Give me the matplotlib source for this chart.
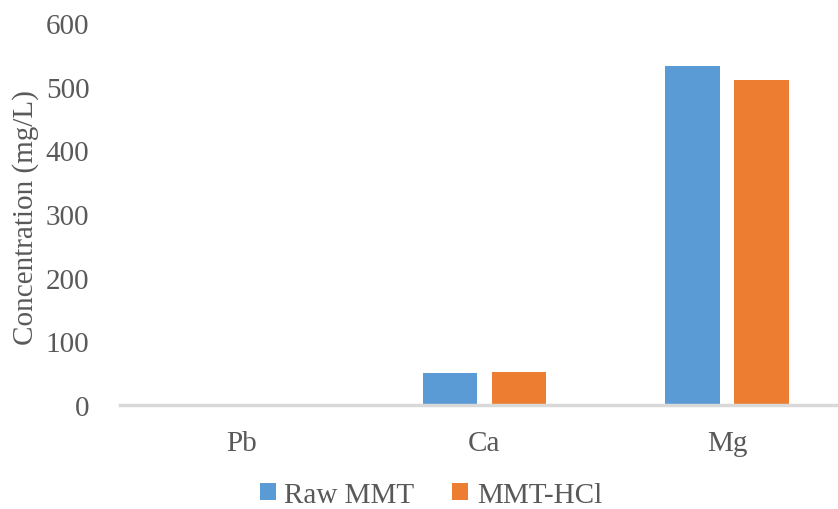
import matplotlib.pyplot as plt
import numpy as np

elements = ['Pb', 'Ca', 'Mg']
raw_mmt = [0.5, 50, 532]
mmt_hcl = [0.4, 52, 510]
y_ticks = [0, 100, 200, 300, 400, 500, 600]

plt.rcParams['font.family'] = ['Liberation Serif', 'DejaVu Serif']
grey = '#595959'

fig = plt.figure(figsize=(8.38, 5.10), dpi=100)
ax = fig.add_axes([120 / 838, 104 / 510, 718 / 838, 382 / 510])

x = np.arange(len(elements))
w = 0.226
ax.bar(x - 0.142, raw_mmt, w, color='#5b9bd5', label='Raw MMT')
ax.bar(x + 0.142, mmt_hcl, w, color='#ed7d31', label='MMT-HCl')

ax.set_xlim(-0.5, 2.455)
ax.set_ylim(0, 600)
ax.set_yticks(y_ticks)
ax.set_xticks(x)
ax.set_xticklabels(elements)
ax.tick_params(length=0, labelsize=21, colors=grey)
ax.tick_params(axis='y', pad=22)
ax.tick_params(axis='x', pad=18)

for s in ['top', 'right', 'left']:
    ax.spines[s].set_visible(False)
ax.spines['bottom'].set_color('#d9d9d9')
ax.spines['bottom'].set_linewidth(2.5)

fig.text(26 / 838, 1 - 218 / 510, 'Concentration (mg/L)', rotation=90,
         ha='center', va='center', fontsize=21, color=grey)

fig.legend(loc='center', bbox_to_anchor=(431 / 838, 1 - 496 / 510), ncol=2,
           frameon=False, fontsize=21, labelcolor=grey, handlelength=0.55,
           handleheight=0.55, handletextpad=0.3, columnspacing=1.3)

fig.savefig('out.png', dpi=100)
